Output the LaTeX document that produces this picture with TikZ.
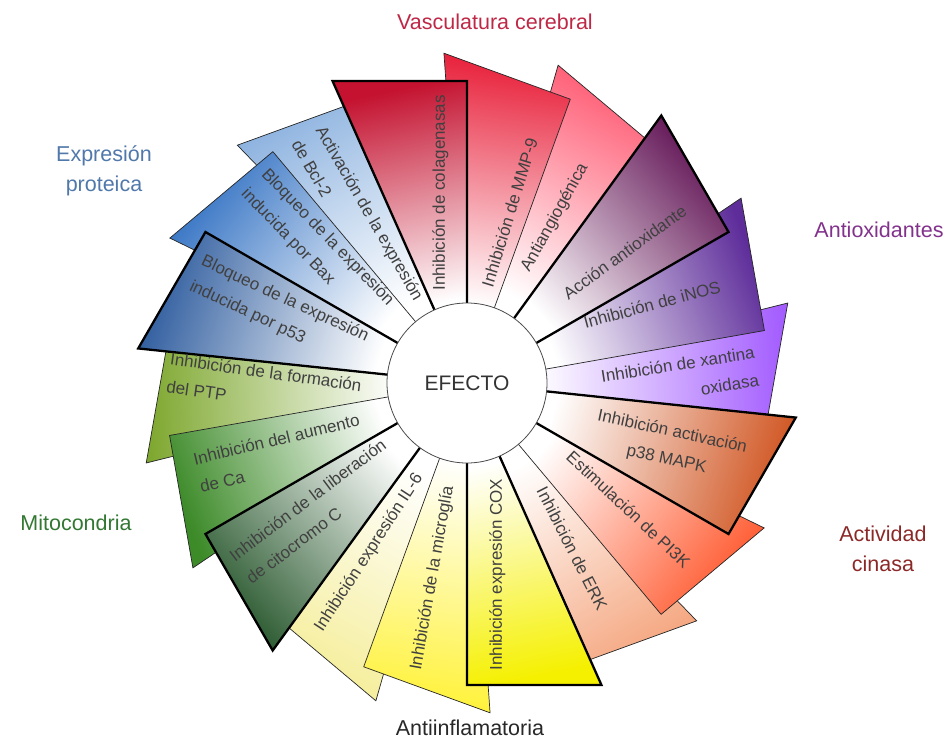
\documentclass[tikz,border=0pt]{standalone}
\usepackage{fontspec}
\setmainfont{Liberation Sans}

\definecolor{vascA}{RGB}{196,18,48}
\definecolor{vascB}{RGB}{232,32,58}
\definecolor{vascC}{RGB}{255,92,116}
\definecolor{oxA}{RGB}{100,24,88}
\definecolor{oxB}{RGB}{94,45,154}
\definecolor{oxC}{RGB}{163,92,255}
\definecolor{kinA}{RGB}{208,84,32}
\definecolor{kinB}{RGB}{255,90,48}
\definecolor{kinC}{RGB}{245,168,130}
\definecolor{infA}{RGB}{245,240,0}
\definecolor{infB}{RGB}{255,242,58}
\definecolor{infC}{RGB}{245,238,154}
\definecolor{mitA}{RGB}{43,90,48}
\definecolor{mitB}{RGB}{60,138,40}
\definecolor{mitC}{RGB}{127,168,48}
\definecolor{proA}{RGB}{46,92,158}
\definecolor{proB}{RGB}{54,116,196}
\definecolor{proC}{RGB}{143,180,224}

\definecolor{vascText}{RGB}{190,40,70}
\definecolor{oxText}{RGB}{130,50,140}
\definecolor{kinText}{RGB}{140,40,40}
\definecolor{infText}{RGB}{40,40,40}
\definecolor{mitText}{RGB}{50,120,50}
\definecolor{proText}{RGB}{80,120,170}

\tikzset{
  blade/.style={draw=black!85, line width=0.7pt, line join=miter},
  topblade/.style={draw=black, line width=2.3pt, line join=miter},
  bladetext/.style={font=\fontsize{17}{28}\selectfont, text=black!75, align=left, inner sep=0pt},
  grouptext/.style={font=\fontsize{21.5}{30}\selectfont, align=center, inner sep=1pt},
}

% blade: style, clockwise edge angle, colour
\newcommand{\blade}[3]{%
  \pgfmathsetmacro{\shadeang}{#2-78}%
  \shade[#1, top color=#3, bottom color=white, shading angle=\shadeang]
    (#2:70) -- (#2:302) -- ({#2+24}:330.6) -- ({#2+24}:70) -- cycle;}

\begin{document}
\begin{tikzpicture}[x=1pt, y=1pt]
  \useasboundingbox (-467,-359) rectangle (483,383);

  % back row
  \blade{blade}{50}{vascC}
  \blade{blade}{-10}{oxC}
  \blade{blade}{-70}{kinC}
  \blade{blade}{-130}{infC}
  \blade{blade}{170}{mitC}
  \blade{blade}{110}{proC}
  % middle row
  \blade{blade}{70}{vascB}
  \blade{blade}{10}{oxB}
  \blade{blade}{-50}{kinB}
  \blade{blade}{-110}{infB}
  \blade{blade}{-170}{mitB}
  \blade{blade}{130}{proB}
  % front row
  \blade{topblade}{90}{vascA}
  \blade{topblade}{30}{oxA}
  \blade{topblade}{-30}{kinA}
  \blade{topblade}{-90}{infA}
  \blade{topblade}{-150}{mitA}
  \blade{topblade}{150}{proA}

  \node[circle, draw=black!70, line width=0.8pt, fill=white, minimum size=160pt,
        font=\fontsize{21}{24}\selectfont, text=black!80] (efecto) at (0,0) {EFECTO};

  \node[bladetext, rotate=90] (colag) at (98:192) {Inhibición de colagenasas};
  \node[bladetext, rotate=73] (mmp) at (76:176) {Inhibición de MMP-9};
  \node[bladetext, rotate=61] (antiang) at (62:187) {Antiangiogénica};
  \node[bladetext, rotate=36] (accion) at (39.7:205) {Acción antioxidante};
  \node[bladetext, rotate=15] (inos) at (23:201) {Inhibición de iNOS};
  \node[bladetext, rotate=9, align=right] (xant) at (1.3:213) {Inhibición de xantina\\oxidasa};
  \node[bladetext, rotate=-12, align=center] (mapk) at (-17.3:212) {Inhibición activación\\p38 MAPK};
  \node[bladetext, rotate=-43] (pik) at (-38:205) {Estimulación de PI3K};
  \node[bladetext, rotate=-63] (erk) at (-57.5:196) {Inhibición de ERK};
  \node[bladetext, rotate=90] (cox) at (-81:194) {Inhibición expresión COX};
  \node[bladetext, rotate=80] (micro) at (-100:198) {Inhibición de la microglía};
  \node[bladetext, rotate=57] (il) at (-120:196) {Inhibición expresión IL-6};
  \node[bladetext, rotate=37] (citoc) at (-139.7:198) {Inhibición de la liberación\\de citocromo C};
  \node[bladetext, rotate=13.5] (calc) at (-159.5:200) {Inhibición del aumento\\de Ca};
  \node[bladetext, rotate=-8] (ptp) at (-179.2:203) {Inhibición de la formación\\del PTP};
  \node[bladetext, rotate=-25] (pfs) at (159.3:201) {Bloqueo de la expresión\\inducida por p53};
  \node[bladetext, rotate=-46] (bax) at (137.8:202) {Bloqueo de la expresión\\inducida por Bax};
  \node[bladetext, rotate=-60] (bcl) at (123.8:196) {Activación de la expresión\\de Bcl-2};

  \node[grouptext, text=vascText] (vasc) at (28,361) {Vasculatura cerebral};
  \node[grouptext, text=oxText] (antiox) at (412,153) {Antioxidantes};
  \node[grouptext, text=kinText] (cinasa) at (416,-166) {Actividad\\cinasa};
  \node[grouptext, text=infText] (inflam) at (3,-345) {Antiinflamatoria};
  \node[grouptext, text=mitText] (mito) at (-391,-140) {Mitocondria};
  \node[grouptext, text=proText] (prot) at (-363,212) {Expresión\\proteica};
\end{tikzpicture}
\end{document}
